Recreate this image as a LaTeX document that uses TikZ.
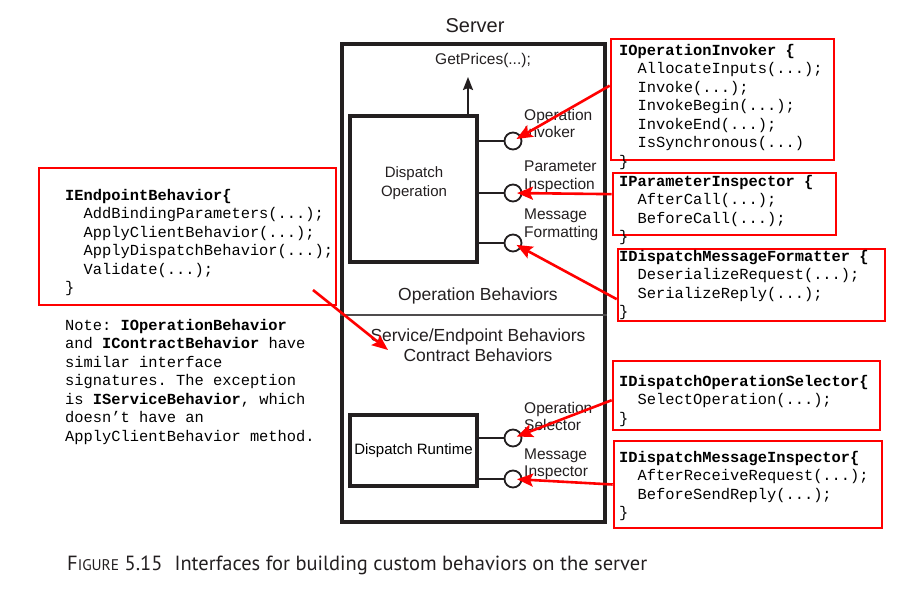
\documentclass[tikz,border=0pt]{standalone}
\usepackage{fontspec}
\setmainfont{Liberation Sans}
\setmonofont{Liberation Mono}
\newfontfamily\capfont{PT Sans}
\usetikzlibrary{arrows.meta}

\definecolor{inkblack}{RGB}{35,31,32}
\newcommand{\ind}{\hphantom{xx}}

\tikzset{
  srvbox/.style={draw=inkblack, line width=3.5pt, inner sep=0pt},
  dispbox/.style={draw=inkblack, line width=3.5pt, inner sep=0pt, font=\fontsize{15}{18}\selectfont},
  ifacebox/.style={draw=red, line width=2.6pt, inner sep=0pt},
  portring/.style={circle, draw=inkblack, line width=1.8pt, minimum size=17pt, inner sep=0pt, fill=white},
  stub/.style={draw=inkblack, line width=1.8pt},
  portlbl/.style={font=\fontsize{15.5}{17.5}\selectfont, text=inkblack, inner sep=0pt, align=left},
  behlbl/.style={font=\fontsize{17.5}{20}\selectfont, text=inkblack, inner sep=0pt},
  codetext/.style={font=\fontsize{15.4}{18.5}\selectfont\ttfamily, anchor=north west, inner sep=0pt, align=left},
  hookarrow/.style={draw=red, line width=2.6pt, -{Stealth[length=16pt,width=13pt,inset=3pt]}},
  callarrow/.style={draw=inkblack, line width=2pt, -{Stealth[length=13pt,width=10pt,inset=2pt]}},
}

\begin{document}
\begin{tikzpicture}[x=1pt,y=1pt,yscale=-1,xscale=1]
\useasboundingbox (0,0) rectangle (899,601);

% Server frame
\node[srvbox, minimum width=263pt, minimum height=478pt] (server) at (473.5,283) {};
\node[behlbl, font=\fontsize{20}{24}\selectfont] (srvlbl) at (475,26) {Server};
\coordinate (sep) at (0,315);
\draw[draw=inkblack!80, line width=1.4pt] (server.west |- sep) -- (server.east |- sep);

% Dispatch boxes
\node[dispbox, minimum width=127pt, minimum height=146pt] (dop) at (413.5,189) {};
\node[portlbl, align=center, font=\fontsize{15}{19}\selectfont] (doptxt) at (414,183.5) {Dispatch\\Operation};
\node[dispbox, minimum width=127pt, minimum height=71pt] (drt) at (413.5,450.5) {Dispatch Runtime};

% GetPrices call
\node[portlbl] (getp) at (483,60) {GetPrices(...);};
\coordinate (gptip) at (468,77);
\draw[callarrow] (dop.north -| gptip) -- (gptip);

% Ports
\node[portring] (pinv) at (513,141) {};
\node[portring] (ppar) at (513,193) {};
\node[portring] (pfmt) at (513,243) {};
\node[portring] (psel) at (513,438) {};
\node[portring] (pmsg) at (513,479) {};
\draw[stub] (dop.east |- pinv) -- (pinv);
\draw[stub] (dop.east |- ppar) -- (ppar);
\draw[stub] (dop.east |- pfmt) -- (pfmt);
\draw[stub] (drt.east |- psel) -- (psel);
\draw[stub] (drt.east |- pmsg) -- (pmsg);

% Port labels
\node[portlbl, anchor=west] (linv) at (524,123.5) {Operation\\Invoker};
\node[portlbl, anchor=west] (lpar) at (524,177) {Parameter\\Inspection};
\node[portlbl, anchor=west] (lfmt) at (524,225) {Message\\Formatting};
\node[portlbl, anchor=west] (lsel) at (524,416.5) {Operation\\Selector};
\node[portlbl, anchor=west] (lmsg) at (524,464.5) {Message\\Inspector};

% Behavior labels
\node[behlbl] (opbeh) at (478,296) {Operation Behaviors};
\node[behlbl, align=center] (svcbeh) at (478,345) {Service/Endpoint Behaviors\\Contract Behaviors};

% Interface boxes
\node[ifacebox, minimum width=223pt, minimum height=121pt] (ioi) at (722.5,99.5) {};
\node[codetext] (ioitxt) at (619,44) {\textbf{IOperationInvoker \{}\\\ind AllocateInputs(...);\\\ind Invoke(...);\\\ind InvokeBegin(...);\\\ind InvokeEnd(...);\\\ind IsSynchronous(...)\\\}};

\node[ifacebox, minimum width=223pt, minimum height=62pt] (ipi) at (724.5,204) {};
\node[codetext] (ipitxt) at (619,175) {\textbf{IParameterInspector \{}\\\ind AfterCall(...);\\\ind BeforeCall(...);\\\}};

\node[ifacebox, minimum width=267pt, minimum height=72pt] (idmf) at (751.5,285) {};
\node[codetext] (idmftxt) at (619,250) {\textbf{IDispatchMessageFormatter \{}\\\ind DeserializeRequest(...);\\\ind SerializeReply(...);\\\}};

\node[ifacebox, minimum width=267pt, minimum height=69pt] (idos) at (746.5,395.5) {};
\node[codetext] (idostxt) at (619,375) {\textbf{IDispatchOperationSelector\{}\\\ind SelectOperation(...);\\\}};

\node[ifacebox, minimum width=268pt, minimum height=87pt] (idmi) at (748,484.5) {};
\node[codetext] (idmitxt) at (619,451) {\textbf{IDispatchMessageInspector\{}\\\ind AfterReceiveRequest(...);\\\ind BeforeSendReply(...);\\\}};

\node[ifacebox, minimum width=297pt, minimum height=137pt] (iep) at (187.5,236.5) {};
\node[codetext] (ieptxt) at (65,189) {\textbf{IEndpointBehavior\{}\\\ind AddBindingParameters(...);\\\ind ApplyClientBehavior(...);\\\ind ApplyDispatchBehavior(...);\\\ind Validate(...);\\\}};

% Note
\node[codetext] (note) at (65,319) {Note: \textbf{IOperationBehavior}\\and \textbf{IContractBehavior} have\\similar interface\\signatures. The exception\\is \textbf{IServiceBehavior}, which\\doesn’t have an\\ApplyClientBehavior method.};

% Red hook arrows
\draw[hookarrow, shorten >=4pt] (ioi.173) -- (pinv.center);
\draw[hookarrow, shorten >=4pt] (ipi.175) -- (ppar.center);
\draw[hookarrow, shorten >=4pt] (idmf.186) -- (pfmt.center);
\draw[hookarrow, shorten >=4pt] (idos.182) -- (psel.center);
\draw[hookarrow, shorten >=4pt] (idmi.west) -- (pmsg.center);
\coordinate (iepout) at (313,290);
\coordinate (behin) at (388,350);
\draw[hookarrow] (iepout) -- (behin);

% Caption
\node[anchor=base west, inner sep=0pt, text=inkblack, font=\capfont\fontsize{20.5}{24}\selectfont] (caption) at (67,570) {F{\fontsize{15.4}{18}\selectfont IGURE} 5.15\hspace{12pt}Interfaces for building custom behaviors on the server};

\end{tikzpicture}
\end{document}
